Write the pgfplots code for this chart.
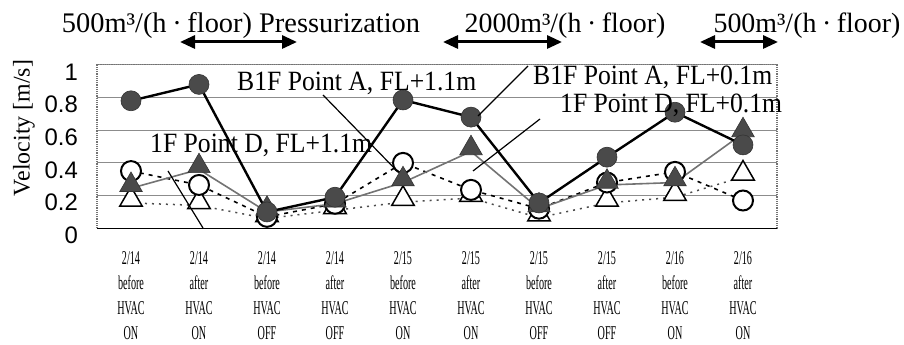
\documentclass[border=0pt]{standalone}
\usepackage{pgfplots}
\pgfplotsset{compat=1.18}
\usepackage{fontspec}
\setmainfont{Liberation Serif}
\newfontfamily\sansf{Liberation Sans}
\usetikzlibrary{arrows.meta}
\definecolor{mkfill}{HTML}{4A4A4A}
\newcommand\xl[3]{\scalebox{0.52}[1]{\fontsize{19.6}{25}\selectfont\begin{tabular}{@{}c@{}}#1\\#2\\HVAC\\#3\end{tabular}}}
\newcommand\ann[1]{\scalebox{0.92}[1]{\fontsize{28}{28}\selectfont #1}}
\begin{document}
\begin{tikzpicture}
\useasboundingbox (0,0) rectangle (904bp,345bp);
\begin{axis}[
  at={(97bp,116.7bp)}, anchor=south west,
  scale only axis, width=680bp, height=163.5bp,
  xmin=0.5, xmax=10.5, ymin=0, ymax=1,
  xtick={1,...,10},
  xticklabels={{\xl{2/14}{before}{ON}},{\xl{2/14}{after}{ON}},{\xl{2/14}{before}{OFF}},{\xl{2/14}{after}{OFF}},{\xl{2/15}{before}{ON}},{\xl{2/15}{after}{ON}},{\xl{2/15}{before}{OFF}},{\xl{2/15}{after}{OFF}},{\xl{2/16}{before}{ON}},{\xl{2/16}{after}{ON}}},
  xticklabel style={inner sep=0pt, anchor=north, yshift=-19bp},
  major x tick style={draw=none},
  extra x ticks={1.5,2.5,...,9.5},
  extra x tick labels={},
  extra x tick style={major tick length=6bp, tick align=inside, major tick style={draw=gray, line width=0.8bp}},
  ytick={0,0.2,...,1},
  yticklabels={0,0.2,0.4,0.6,0.8,1},
  yticklabel style={font=\sansf\fontsize{24}{24}\selectfont, inner sep=0pt, xshift=-19bp, yshift=-7bp},
  major y tick style={draw=none},
  ymajorgrids, major grid style={draw=black!45, line width=0.9bp},
  axis line style={draw=black!55, line width=1.2bp, densely dotted},
  /pgf/number format/assume math mode=true,
  clip=false,
]
% open triangles (dotted)
\addplot[black!70, line width=1.5bp, dash pattern=on 2bp off 5bp,
  mark=triangle*, mark size=13bp,
  mark options={solid, fill=white, draw=black, line width=1.5bp, yshift=3.25bp}]
  coordinates {(1,0.155) (2,0.14) (3,0.06) (4,0.11) (5,0.16) (6,0.185) (7,0.065) (8,0.155) (9,0.19) (10,0.315)};
% open circles (dashed)
\addplot[black, line width=1.6bp, dash pattern=on 4bp off 5bp,
  mark=*, mark size=10bp,
  mark options={solid, fill=white, draw=black, line width=2bp}]
  coordinates {(1,0.35) (2,0.265) (3,0.07) (4,0.15) (5,0.40) (6,0.235) (7,0.12) (8,0.28) (9,0.345) (10,0.17)};
% filled triangles (gray solid)
\addplot[black!55, line width=1.6bp,
  mark=triangle*, mark size=13bp,
  mark options={solid, fill=mkfill, draw=black!80, line width=0.6bp, yshift=3.25bp}]
  coordinates {(1,0.245) (2,0.36) (3,0.10) (4,0.15) (5,0.28) (6,0.47) (7,0.12) (8,0.265) (9,0.28) (10,0.58)};
% filled circles (black solid)
\addplot[black, line width=2.4bp,
  mark=*, mark size=10bp,
  mark options={solid, fill=mkfill, draw=black!80, line width=0.6bp}]
  coordinates {(1,0.78) (2,0.88) (3,0.10) (4,0.19) (5,0.785) (6,0.68) (7,0.155) (8,0.435) (9,0.71) (10,0.51)};
\draw[black, line width=1.4bp] (rel axis cs:0,0) -- (rel axis cs:1,0);
\end{axis}
% y label
\node[rotate=90, inner sep=0pt, font=\fontsize{24}{24}\selectfont] at (24bp,217bp) {Velocity [m/s]};
% top labels
\node[anchor=base, inner sep=0pt, font=\fontsize{28.5}{28.5}\selectfont] at (241bp,312bp) {500m³/(h\hspace{0.2em}·\hspace{0.2em}floor) Pressurization};
\node[anchor=base, inner sep=0pt, font=\fontsize{28}{28}\selectfont] at (565bp,312bp) {2000m³/(h\hspace{0.2em}·\hspace{0.2em}floor)};
\node[anchor=base, inner sep=0pt, font=\fontsize{28}{28}\selectfont] at (807bp,312bp) {500m³/(h\hspace{0.2em}·\hspace{0.2em}floor)};
\draw[line width=3bp, {Triangle[length=15bp,width=13bp]}-{Triangle[length=15bp,width=13bp]}] (180bp,303bp) -- (297bp,303bp);
\draw[line width=3bp, {Triangle[length=15bp,width=13bp]}-{Triangle[length=15bp,width=13bp]}] (443bp,303bp) -- (562bp,303bp);
\draw[line width=3bp, {Triangle[length=15bp,width=13bp]}-{Triangle[length=15bp,width=13bp]}] (700bp,303bp) -- (778bp,303bp);
% annotations
\node[anchor=base west, inner sep=0pt] at (237bp,254bp) {\ann{B1F Point A, FL+1.1m}};
\node[anchor=base west, inner sep=0pt] at (533bp,260bp) {\ann{B1F Point A, FL+0.1m}};
\node[anchor=base west, inner sep=0pt] at (560bp,232bp) {\ann{1F Point D, FL+0.1m}};
\node[anchor=base west, inner sep=0pt] at (150bp,192bp) {\ann{1F Point D, FL+1.1m}};
\draw[black, line width=1.2bp] (323bp,250bp) -- (398bp,173bp);
\draw[black, line width=1.2bp] (528bp,279bp) -- (478bp,229bp);
\draw[black, line width=1.2bp] (540bp,226bp) -- (473bp,174bp);
\draw[black, line width=1.2bp] (168bp,174bp) -- (203bp,117bp);
\end{tikzpicture}
\end{document}
